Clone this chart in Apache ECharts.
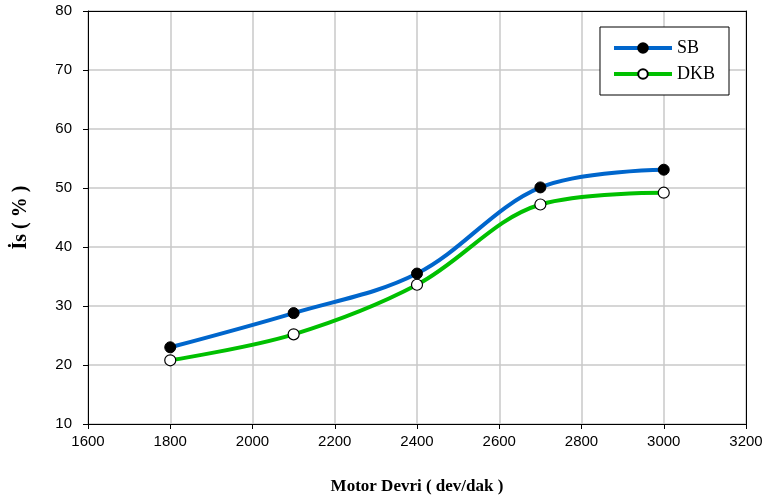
<!DOCTYPE html>
<html>
<head>
<meta charset="utf-8">
<script src="https://cdn.jsdelivr.net/npm/echarts@6/dist/echarts.min.js"></script>
<style>
    html, body {margin: 0; padding: 0; background: #fff;}
    #main {width: 766px; height: 497px;}
</style>
</head>
<body>
<div id="main"></div>
<script>
// motor devri (dev/dak)
var rpm = [1800, 2100, 2400, 2700, 3000];
// is (%)
var sbValues = [23.0, 28.8, 35.5, 50.1, 53.1];
var dkbValues = [20.8, 25.2, 33.6, 47.2, 49.2];

var chart = echarts.init(document.getElementById('main'));

function pairs(xs, ys) {
    var out = [];
    for (var i = 0; i < xs.length; i++) {
        out.push([xs[i], ys[i]]);
    }
    return out;
}

var labelFont = {fontFamily: 'Liberation Sans', fontSize: 15, color: '#000'};
var titleFont = {fontFamily: 'Liberation Serif', fontWeight: 'bold', fontSize: 17, color: '#000'};

chart.setOption({
    animation: false,
    grid: {left: 88, right: 20, top: 11, bottom: 73, outerBoundsMode: 'none', containLabel: false},
    legend: {
        right: 37,
        top: 27,
        orient: 'vertical',
        itemWidth: 58,
        itemHeight: 12,
        itemGap: 8,
        padding: [12, 14, 12, 12],
        borderColor: '#000',
        borderWidth: 1,
        backgroundColor: '#fff',
        lineStyle: {width: 4},
        textStyle: {fontFamily: 'Liberation Serif', fontSize: 18, color: '#000'},
        data: ['SB', 'DKB']
    },
    xAxis: [{
        type: 'value',
        min: 1600,
        max: 3200,
        interval: 200,
        name: 'Motor Devri ( dev/dak )',
        nameLocation: 'middle',
        nameGap: 54,
        nameTextStyle: titleFont,
        axisLine: {lineStyle: {color: '#000'}},
        axisTick: {show: true, length: 5, lineStyle: {color: '#000'}},
        axisLabel: Object.assign({margin: 10, formatter: function (v) { return String(v); }}, labelFont),
        splitLine: {lineStyle: {color: '#c8c8c8', width: 1.5}}
    }, {
        type: 'value',
        position: 'top',
        min: 1600,
        max: 3200,
        axisLine: {show: true, lineStyle: {color: '#000'}},
        axisTick: {show: false},
        axisLabel: {show: false},
        splitLine: {show: false}
    }],
    yAxis: [{
        type: 'value',
        min: 10,
        max: 80,
        interval: 10,
        name: 'İs ( % )',
        nameLocation: 'middle',
        nameGap: 57,
        nameTextStyle: Object.assign({}, titleFont, {fontSize: 20}),
        axisLine: {show: true, lineStyle: {color: '#000'}},
        axisTick: {show: true, length: 5, lineStyle: {color: '#000'}},
        axisLabel: Object.assign({margin: 16}, labelFont),
        splitLine: {lineStyle: {color: '#c8c8c8', width: 1.5}}
    }, {
        type: 'value',
        position: 'right',
        min: 10,
        max: 80,
        axisLine: {show: true, lineStyle: {color: '#000'}},
        axisTick: {show: false},
        axisLabel: {show: false},
        splitLine: {show: false}
    }],
    series: [
        {
            name: 'SB',
            type: 'line',
            smooth: 0.35,
            data: pairs(rpm, sbValues),
            symbol: 'circle',
            symbolSize: 11,
            lineStyle: {color: '#0066cc', width: 4},
            itemStyle: {color: '#000', borderColor: '#000', borderWidth: 1},
            z: 3
        },
        {
            name: 'DKB',
            type: 'line',
            smooth: 0.35,
            data: pairs(rpm, dkbValues),
            symbol: 'circle',
            symbolSize: 11,
            lineStyle: {color: '#00c000', width: 4},
            itemStyle: {color: '#fff', borderColor: '#000', borderWidth: 1.2},
            z: 2
        }
    ]
});
</script>
</body>
</html>
